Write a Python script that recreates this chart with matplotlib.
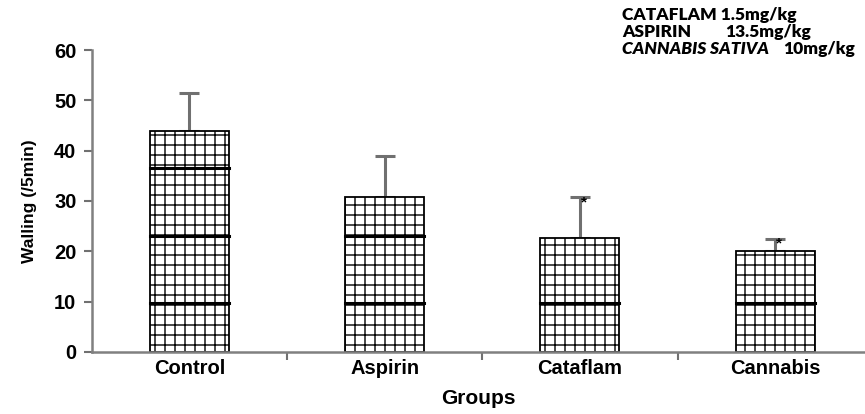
import numpy as np
import matplotlib
matplotlib.use("Agg")
import matplotlib.pyplot as plt

groups = ["Control", "Aspirin", "Cataflam", "Cannabis"]
means = [44.0, 30.7, 22.7, 20.0]
sem = [7.5, 8.3, 8.0, 2.5]
signif = ["", "", "*", "*"]
band_levels = [9.7, 23.1, 36.5]  # darker hatch rows seen in the bars

DPI = 120
s = 100 / DPI  # keep sizes as if drawn at 100 dpi

plt.rcParams["font.family"] = ["Liberation Sans", "DejaVu Sans"]
plt.rcParams["hatch.linewidth"] = 1.0 * s

fig = plt.figure(figsize=(865 / DPI, 414 / DPI), dpi=DPI)
ax = fig.add_axes([0.106, 0.15, 0.894, 0.729])

x = np.arange(len(groups))
w = 0.405
bars = ax.bar(x, means, width=w, color="white", edgecolor="black", linewidth=1.3 * s,
              hatch="++", zorder=2)
ax.errorbar(x, means, yerr=[np.zeros(len(sem)), sem], fmt="none", ecolor="#707070",
            elinewidth=2.2 * s, capsize=7 * s, capthick=2.2 * s, zorder=1)

for xi, m in zip(x, means):
    for lv in band_levels:
        if lv < m:
            ax.plot([xi - w / 2, xi + w / 2], [lv, lv], color="black", lw=2.2 * s, zorder=3)

for xi, m, e, t in zip(x, means, sem, signif):
    if t:
        ax.text(xi + 0.005, m + e + 0.4, t, ha="left", va="top", fontsize=11 * s,
                fontweight="bold")

ax.set_xlim(-0.5, 3.46)
ax.set_ylim(0, 60)
ax.set_yticks(range(0, 61, 10))
ax.set_xticks(x)
ax.set_xticklabels(groups, fontsize=14.5 * s, fontweight="bold")
ax.set_xticks(x[:-1] + 0.5, minor=True)
ax.tick_params(axis="x", which="major", length=0, pad=5 * s)
ax.tick_params(axis="x", which="minor", length=6 * s, width=1.5 * s, color="#707070",
               direction="out")
ax.tick_params(axis="y", length=6 * s, width=1.5 * s, color="#707070", direction="out",
               labelsize=14.5 * s, pad=5 * s)
for lab in ax.get_yticklabels():
    lab.set_fontweight("bold")

for side in ["top", "right"]:
    ax.spines[side].set_visible(False)
for side in ["left", "bottom"]:
    ax.spines[side].set_color("#808080")
    ax.spines[side].set_linewidth(1.8 * s)

ax.set_ylabel("Walling (/5min)", fontsize=12.5 * s, fontweight="bold", labelpad=12 * s)
ax.set_xlabel("Groups", fontsize=15 * s, fontweight="bold", labelpad=8 * s)

leg_font = ["Lato", "DejaVu Sans"]
fs = 12.5 * s
lw_ = "heavy"
fig.text(622 / 865, 1 - 15 / 414, "CATAFLAM 1.5mg/kg", fontsize=fs, fontweight=lw_,
         family=leg_font, va="center")
fig.text(622 / 865, 1 - 32 / 414, "ASPIRIN", fontsize=fs, fontweight=lw_,
         family=leg_font, va="center")
fig.text(725 / 865, 1 - 32 / 414, "13.5mg/kg", fontsize=fs, fontweight=lw_,
         family=leg_font, va="center")
fig.text(622 / 865, 1 - 49 / 414, "CANNABIS SATIVA", fontsize=fs, fontweight=lw_,
         style="italic", family=leg_font, va="center")
fig.text(783 / 865, 1 - 49 / 414, "10mg/kg", fontsize=fs, fontweight=lw_,
         family=leg_font, va="center")

fig.savefig("out.png", dpi=DPI)
